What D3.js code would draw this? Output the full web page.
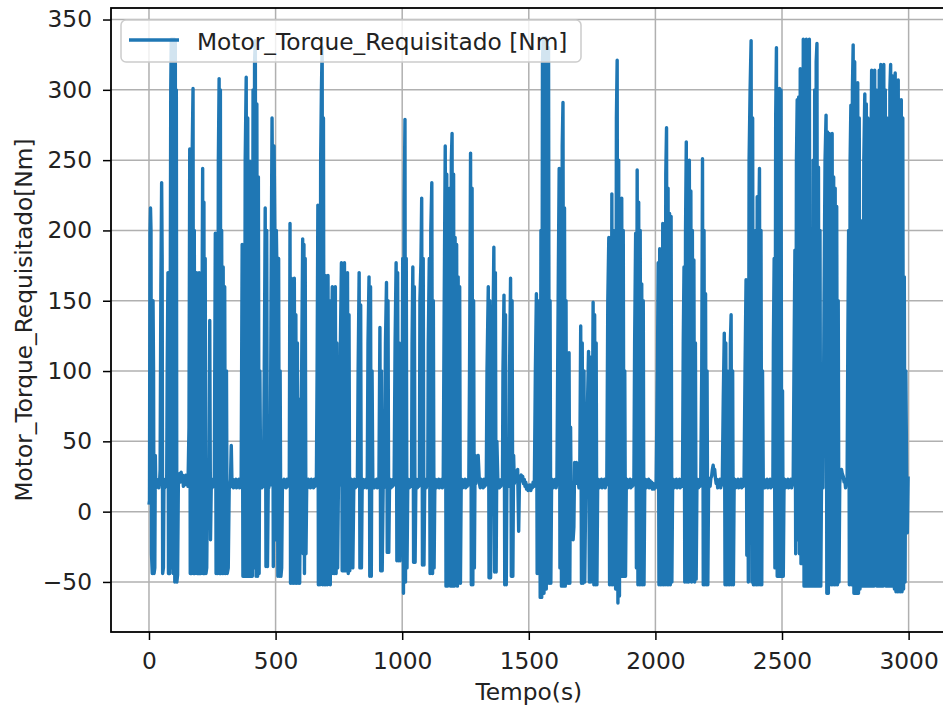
<!DOCTYPE html>
<html>
<head>
<meta charset="utf-8">
<script src="https://cdn.jsdelivr.net/npm/d3@7"></script>
<style>
    body { margin: 0; background: #fff; }
    #chart-area svg { display: block; font-family: "DejaVu Sans", sans-serif; }
</style>
</head>
<body>
<div id="chart-area"></div>
<script>

// tempo (s), torque (Nm), one array per 500 s
var seg0000 = [[0,5],[2,8],[4,198],[6,216],[8,200],[10,-30],[13,-44],[16,150],[18,100],[20,-44],[23,-40],[25,40],[27,17],[30,23],[33,18],[36,22],[39,17],[42,22],[44,30],[47,160],[50,234],[52,180],[54,-44],[57,-40],[59,20],[62,17],[65,23],[68,18],[70,21],[72,100],[75,170],[77,-44],[80,120],[82,-44],[84,150],[86,300],[88,336],[90,-40],[92,330],[94,336],[96,-44],[98,320],[100,336],[102,-50],[104,334],[106,-48],[108,300],[110,-50],[113,-45],[116,20],[118,23],[121,27],[124,21],[127,28],[130,22],[133,26],[136,18],[139,23],[142,19],[145,26],[148,20],[151,24],[154,18],[158,60],[161,258],[163,-44],[166,150],[168,-44],[171,260],[174,301],[176,-44],[179,200],[181,-44],[185,60],[188,170],[190,-44],[193,160],[195,-44],[198,170],[200,-44],[203,140],[205,-44],[209,120],[212,244],[214,-44],[217,220],[219,-44],[222,180],[225,-44],[228,-40],[231,20],[234,17],[237,23],[240,136],[243,-20],[246,20],[249,17],[252,23],[255,18],[258,22],[262,198],[265,-44],[268,180],[271,-44],[274,250],[277,308],[279,-44],[282,300],[284,-44],[287,200],[290,-44],[293,174],[296,-44],[299,160],[302,-44],[306,100],[309,-44],[313,-40],[317,20],[319,17],[322,23],[325,47],[328,18],[331,23],[334,17],[337,22],[340,18],[343,23],[346,17],[349,22],[352,18],[355,23],[358,17],[361,22],[364,19],[368,190],[371,-46],[374,150],[377,-46],[380,250],[384,309],[387,-46],[390,280],[393,-46],[396,200],[399,249],[402,-46],[405,230],[408,-46],[411,300],[414,-40],[417,320],[420,335],[423,-46],[426,290],[429,-46],[432,238],[435,-44],[438,100],[441,20],[443,23],[446,17],[449,22],[452,18],[456,120],[459,216],[462,-39],[465,200],[468,-39],[471,20],[473,17],[476,23],[479,19],[482,150],[486,280],[488,220],[491,-39],[494,260],[497,200]];

var seg0500 = [[500,-20],[503,200],[506,160],[509,-46],[512,180],[515,-46],[518,100],[521,-46],[524,-40],[527,20],[530,17],[533,23],[536,18],[539,22],[542,17],[545,23],[548,18],[551,22],[554,19],[557,205],[559,-51],[562,166],[565,-51],[568,160],[571,-51],[574,166],[577,-51],[580,140],[583,-51],[586,120],[589,-51],[592,80],[595,-51],[598,20],[603,100],[607,194],[609,-30],[612,190],[614,-44],[617,180],[620,-30],[623,20],[626,17],[629,23],[632,18],[635,22],[638,17],[641,23],[644,18],[647,22],[650,17],[653,23],[656,18],[659,22],[661,19],[664,100],[667,218],[669,-52],[672,200],[675,-52],[678,250],[681,300],[684,330],[686,-52],[689,280],[692,-52],[696,168],[698,-52],[701,160],[704,-52],[707,168],[710,-50],[713,150],[716,-52],[720,100],[724,160],[727,-44],[730,150],[733,-44],[736,160],[739,-44],[742,120],[745,-40],[748,17],[750,23],[752,19],[756,120],[760,177],[763,-42],[766,170],[769,-42],[772,177],[775,-42],[778,160],[781,-42],[784,170],[787,-44],[790,140],[793,-42],[797,20],[800,23],[803,17],[805,-40],[809,20],[812,23],[815,17],[818,22],[821,18],[823,21],[826,100],[830,170],[833,-40],[836,147],[839,-40],[842,20],[845,23],[848,17],[851,22],[854,18],[857,23],[860,17],[862,21],[865,120],[869,167],[872,-46],[875,160],[878,-46],[881,100],[884,20],[887,23],[890,17],[893,22],[896,18],[899,23],[902,17],[905,22],[908,19],[912,131],[915,-42],[918,100],[921,-42],[925,20],[928,17],[930,22],[934,120],[938,163],[941,-29],[944,150],[947,-29],[950,20],[953,23],[956,17],[959,22],[962,18],[965,23],[968,19],[972,120],[976,177],[979,-35],[982,170],[985,-35],[988,120],[991,-35],[995,20]];

var seg1000 = [[999,17],[1002,180],[1005,-58],[1008,220],[1011,279],[1013,-50],[1016,180],[1019,-40],[1022,20],[1025,23],[1028,17],[1031,22],[1034,18],[1037,21],[1039,120],[1042,174],[1045,-36],[1048,160],[1051,-36],[1054,20],[1057,23],[1060,17],[1063,22],[1066,18],[1068,21],[1070,150],[1074,177],[1077,223],[1080,-38],[1083,180],[1086,-38],[1089,20],[1092,23],[1095,17],[1098,22],[1101,19],[1103,120],[1107,180],[1110,-44],[1113,200],[1117,234],[1120,-44],[1123,150],[1126,-40],[1129,20],[1132,23],[1135,17],[1138,22],[1141,18],[1144,23],[1147,17],[1150,22],[1153,18],[1156,23],[1159,17],[1162,21],[1166,150],[1170,260],[1173,-53],[1176,240],[1179,-53],[1182,200],[1185,-50],[1188,230],[1191,-53],[1194,250],[1197,269],[1200,-53],[1203,240],[1206,-53],[1209,195],[1212,-50],[1215,190],[1218,-53],[1221,167],[1224,-51],[1227,160],[1230,-51],[1233,20],[1236,23],[1239,17],[1242,22],[1245,18],[1248,23],[1251,17],[1254,22],[1257,18],[1260,23],[1263,19],[1266,100],[1270,255],[1273,-52],[1276,230],[1279,-52],[1282,150],[1285,-40],[1288,40],[1291,20],[1295,35],[1300,40],[1305,20],[1308,17],[1311,23],[1314,18],[1317,22],[1320,17],[1323,23],[1326,18],[1329,22],[1332,19],[1335,100],[1340,160],[1343,-47],[1346,150],[1349,-47],[1352,20],[1355,22],[1358,120],[1362,188],[1365,-43],[1368,170],[1371,-43],[1374,50],[1378,20],[1381,23],[1384,17],[1387,22],[1390,18],[1393,23],[1396,19],[1398,100],[1402,154],[1405,-52],[1408,140],[1411,-52],[1414,40],[1417,20],[1420,23],[1422,18],[1424,100],[1428,166],[1431,-46],[1434,150],[1437,-46],[1440,40],[1443,20],[1446,23],[1450,25],[1453,29],[1456,30],[1460,-14],[1463,20],[1466,24],[1470,26],[1473,22],[1476,25],[1479,20],[1482,23],[1485,18],[1488,21],[1491,16],[1494,19],[1497,15],[1499,18]];

var seg1500 = [[1502,16],[1505,19],[1508,15],[1511,18],[1514,17],[1517,21],[1520,18],[1522,20],[1526,100],[1530,155],[1533,-44],[1536,150],[1539,-44],[1542,120],[1545,-61],[1548,200],[1551,-61],[1554,320],[1557,337],[1560,-58],[1563,330],[1566,337],[1569,-55],[1572,320],[1575,-51],[1578,330],[1581,-51],[1584,150],[1587,-51],[1590,20],[1593,23],[1596,17],[1599,22],[1602,18],[1605,23],[1608,17],[1611,21],[1614,100],[1617,178],[1620,244],[1623,-40],[1626,200],[1629,-53],[1632,260],[1635,291],[1638,-53],[1641,216],[1644,-53],[1647,150],[1650,-51],[1653,110],[1656,-51],[1659,113],[1662,-51],[1665,60],[1668,-11],[1671,20],[1675,-20],[1678,-11],[1681,35],[1684,20],[1688,35],[1692,20],[1695,23],[1698,17],[1701,21],[1705,132],[1708,-51],[1711,120],[1714,-51],[1718,100],[1721,-50],[1725,20],[1730,60],[1736,114],[1739,-50],[1742,110],[1745,-50],[1750,20],[1754,149],[1757,-52],[1760,140],[1763,-52],[1766,120],[1769,-52],[1772,20],[1775,23],[1778,17],[1781,22],[1784,18],[1787,23],[1790,17],[1793,22],[1796,18],[1799,23],[1802,17],[1805,22],[1808,19],[1812,150],[1816,195],[1819,-52],[1822,190],[1825,-52],[1828,226],[1831,-52],[1834,200],[1837,-52],[1840,180],[1843,-55],[1846,280],[1849,321],[1852,-65],[1855,250],[1858,-60],[1861,180],[1864,-46],[1867,223],[1870,-46],[1873,200],[1876,-46],[1879,100],[1882,-46],[1885,20],[1888,23],[1891,17],[1894,22],[1897,18],[1900,23],[1903,17],[1906,22],[1909,18],[1912,23],[1915,19],[1918,120],[1922,198],[1925,-40],[1928,243],[1931,-52],[1934,220],[1937,-52],[1940,200],[1943,-52],[1946,162],[1949,-52],[1952,150],[1955,-52],[1958,20],[1961,23],[1964,17],[1967,22],[1970,18],[1973,23],[1976,17],[1979,22],[1982,18],[1985,21],[1988,16],[1991,20],[1994,16],[1997,19]];

var seg2000 = [[2000,17],[2003,21],[2008,100],[2011,177],[2014,-52],[2017,187],[2020,-52],[2023,170],[2026,-52],[2029,205],[2032,-52],[2035,200],[2038,-52],[2041,240],[2044,273],[2047,-52],[2050,230],[2053,-52],[2056,212],[2059,-52],[2062,210],[2065,-50],[2068,20],[2071,23],[2074,17],[2077,22],[2080,18],[2083,23],[2086,17],[2089,22],[2092,18],[2095,23],[2098,17],[2101,22],[2104,18],[2107,21],[2110,120],[2113,174],[2116,-50],[2119,200],[2122,263],[2125,-50],[2128,240],[2131,-50],[2134,250],[2137,-48],[2140,228],[2143,-50],[2146,200],[2149,-48],[2152,179],[2155,-50],[2158,120],[2161,-48],[2164,20],[2167,23],[2170,17],[2173,22],[2176,18],[2179,22],[2183,100],[2186,251],[2189,-52],[2192,200],[2195,-52],[2198,155],[2201,-52],[2204,100],[2207,-52],[2210,20],[2213,23],[2216,18],[2219,24],[2222,25],[2225,30],[2228,33],[2231,29],[2234,30],[2237,24],[2240,20],[2243,23],[2246,17],[2249,22],[2252,18],[2255,23],[2258,17],[2261,22],[2264,19],[2268,80],[2272,127],[2275,-52],[2278,120],[2281,-52],[2284,100],[2287,-52],[2290,80],[2293,-52],[2296,120],[2299,140],[2302,-52],[2305,100],[2308,-52],[2311,20],[2314,23],[2317,17],[2320,22],[2323,18],[2326,23],[2329,17],[2332,22],[2335,18],[2338,23],[2341,17],[2344,22],[2347,18],[2350,21],[2354,100],[2358,165],[2361,-31],[2364,150],[2367,-50],[2370,250],[2374,300],[2378,335],[2381,-50],[2384,280],[2387,-52],[2390,184],[2393,-52],[2396,200],[2399,-52],[2402,224],[2405,-52],[2408,200],[2411,244],[2414,-52],[2417,200],[2420,-52],[2423,100],[2426,20],[2429,23],[2432,17],[2435,22],[2438,18],[2441,23],[2444,17],[2447,22],[2450,18],[2453,23],[2456,17],[2459,22],[2462,18],[2464,21],[2466,120],[2469,180],[2472,-40],[2475,280],[2478,330],[2481,-46],[2484,300],[2487,-46],[2490,301],[2493,-46],[2496,300],[2499,-46]];

var seg2500 = [[2502,86],[2505,-46],[2508,20],[2511,23],[2514,17],[2517,22],[2520,18],[2523,23],[2526,17],[2529,22],[2532,18],[2535,23],[2538,17],[2541,22],[2544,19],[2548,120],[2551,186],[2554,-30],[2557,250],[2560,293],[2563,-20],[2566,295],[2569,-30],[2572,315],[2575,-37],[2578,300],[2581,-37],[2584,336],[2587,-53],[2590,330],[2593,-53],[2596,336],[2599,-53],[2602,320],[2605,-53],[2608,336],[2611,-53],[2614,150],[2617,200],[2620,-53],[2623,250],[2626,-53],[2629,300],[2632,-53],[2635,320],[2638,333],[2641,-53],[2644,245],[2647,-53],[2650,200],[2653,-53],[2656,20],[2659,23],[2662,17],[2666,150],[2670,250],[2674,282],[2677,-58],[2680,270],[2683,-58],[2686,269],[2689,-52],[2692,260],[2695,-52],[2698,269],[2701,-52],[2704,238],[2707,-52],[2710,230],[2713,-52],[2716,217],[2719,-52],[2722,150],[2725,-50],[2728,20],[2731,26],[2735,30],[2738,27],[2742,25],[2745,21],[2748,23],[2751,17],[2754,22],[2757,19],[2760,120],[2763,200],[2766,-52],[2769,250],[2772,289],[2775,-52],[2778,300],[2781,332],[2784,-58],[2787,320],[2790,-58],[2793,300],[2796,-58],[2799,305],[2802,-58],[2805,280],[2808,-55],[2811,207],[2814,-53],[2817,200],[2820,-53],[2823,250],[2827,297],[2830,-53],[2833,290],[2836,-53],[2839,280],[2842,-53],[2845,200],[2848,-53],[2851,250],[2854,314],[2857,-53],[2860,310],[2863,-53],[2866,314],[2869,-50],[2872,300],[2875,-53],[2878,103],[2881,-53],[2884,314],[2887,-53],[2890,318],[2893,-53],[2896,310],[2899,-53],[2902,318],[2905,-50],[2908,300],[2911,-53],[2914,280],[2917,-53],[2920,250],[2923,-53],[2926,300],[2929,318],[2932,-53],[2935,310],[2938,-53],[2941,290],[2944,-55],[2947,312],[2950,-57],[2953,300],[2956,-57],[2959,307],[2962,-57],[2965,290],[2968,-57],[2971,293],[2974,-57],[2977,280],[2980,-55],[2983,167],[2986,-50],[2989,100],[2992,30],[2995,-15],[2998,25]];

var xTicks = [0, 500, 1000, 1500, 2000, 2500, 3000];
var yTicks = [-50, 0, 50, 100, 150, 200, 250, 300, 350];
var seriesName = "Motor_Torque_Requisitado [Nm]";

TorqueChart = function(_parentElement, _data){
    this.parentElement = _parentElement;
    this.data = _data;
    this.initVis();
};

TorqueChart.prototype.initVis = function(){
    var vis = this;

    vis.w = 943;
    vis.h = 711;
    vis.fontSize = "23.3px";
    // axes box, right spine falls just outside the picture
    vis.left = 111;
    vis.right = 946.6;
    vis.top = 8;
    vis.bottom = 632;

    vis.svg = d3.select("#" + vis.parentElement).append("svg")
        .attr("width", vis.w)
        .attr("height", vis.h);

    vis.x = d3.scaleLinear().domain([-150, 3150]).range([vis.left, vis.right]);
    vis.y = d3.scaleLinear().domain([-85.6, 358.2]).range([vis.bottom, vis.top]);

    // grid
    vis.svg.append("g").selectAll("line")
        .data(xTicks).enter().append("line")
        .attr("x1", function(d){ return vis.x(d); })
        .attr("x2", function(d){ return vis.x(d); })
        .attr("y1", vis.top).attr("y2", vis.bottom)
        .style("stroke", "#b0b0b0").style("stroke-width", 1.5);

    vis.svg.append("g").selectAll("line")
        .data(yTicks).enter().append("line")
        .attr("y1", function(d){ return vis.y(d); })
        .attr("y2", function(d){ return vis.y(d); })
        .attr("x1", vis.left).attr("x2", vis.right)
        .style("stroke", "#b0b0b0").style("stroke-width", 1.5);

    vis.svg.append("clipPath").attr("id", "plot-clip")
        .append("rect")
        .attr("x", vis.left).attr("y", vis.top)
        .attr("width", vis.right - vis.left).attr("height", vis.bottom - vis.top);

    vis.line = d3.line()
        .x(function(d){ return vis.x(d[0]); })
        .y(function(d){ return vis.y(d[1]); });

    vis.svg.append("path")
        .datum(vis.data)
        .attr("clip-path", "url(#plot-clip)")
        .attr("d", vis.line)
        .style("fill", "none")
        .style("stroke", "#1f77b4")
        .style("stroke-width", 3.4)
        .style("stroke-linejoin", "round");

    // axes
    var xAxis = d3.axisBottom(vis.x).tickValues(xTicks).tickSize(8).tickPadding(12)
        .tickFormat(d3.format("d"));
    var yAxis = d3.axisLeft(vis.y).tickValues(yTicks).tickSize(8).tickPadding(11)
        .tickFormat(d3.format("d"));

    vis.gx = vis.svg.append("g")
        .attr("transform", "translate(0," + vis.bottom + ")")
        .call(xAxis);
    vis.gy = vis.svg.append("g")
        .attr("transform", "translate(" + vis.left + ",0)")
        .call(yAxis);

    [vis.gx, vis.gy].forEach(function(g){
        g.select(".domain").remove();
        g.selectAll(".tick line").style("stroke", "#000").style("stroke-width", 1.5);
        g.selectAll(".tick text")
            .style("font-family", "DejaVu Sans")
            .style("font-size", vis.fontSize)
            .style("fill", "#222");
    });

    // spines
    vis.svg.append("rect")
        .attr("x", vis.left).attr("y", vis.top)
        .attr("width", vis.right - vis.left).attr("height", vis.bottom - vis.top)
        .style("fill", "none").style("stroke", "#000").style("stroke-width", 1.8);

    // axis titles
    vis.svg.append("text")
        .attr("x", (vis.left + vis.right) / 2)
        .attr("y", 700)
        .attr("text-anchor", "middle")
        .style("font-size", vis.fontSize)
        .style("fill", "#222")
        .text("Tempo(s)");

    vis.svg.append("text")
        .attr("transform", "translate(32," + ((vis.top + vis.bottom) / 2) + ") rotate(-90)")
        .attr("text-anchor", "middle")
        .style("font-size", vis.fontSize)
        .style("fill", "#222")
        .text("Motor_Torque_Requisitado[Nm]");

    // legend
    vis.legend = vis.svg.append("g");
    vis.legend.append("rect")
        .attr("x", 121).attr("y", 20)
        .attr("width", 460).attr("height", 42)
        .attr("rx", 5)
        .style("fill", "#fff").style("fill-opacity", 0.8)
        .style("stroke", "#cccccc").style("stroke-width", 1.5);
    vis.legend.append("line")
        .attr("x1", 129).attr("x2", 179)
        .attr("y1", 40).attr("y2", 40)
        .style("stroke", "#1f77b4").style("stroke-width", 3.4);
    vis.legend.append("text")
        .attr("x", 197).attr("y", 50)
        .style("font-size", vis.fontSize)
        .style("fill", "#222")
        .text(seriesName);
};

var serie = [].concat(seg0000, seg0500, seg1000, seg1500, seg2000, seg2500);
var chart = new TorqueChart("chart-area", serie);

</script>
</body>
</html>
